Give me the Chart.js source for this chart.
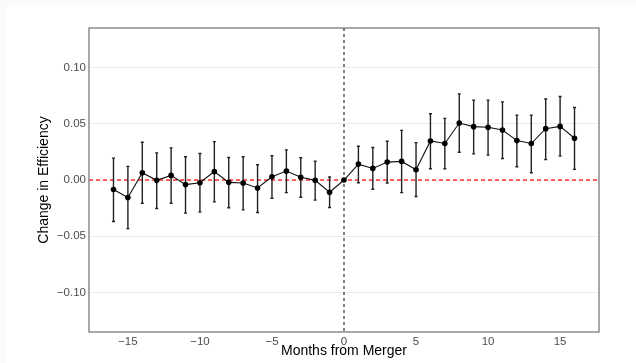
<!DOCTYPE html>
<html lang="en">
<head>
    <meta charset="UTF-8">
    <title>Change in Efficiency by Months from Merger</title>
    <script src="https://cdnjs.cloudflare.com/ajax/libs/Chart.js/4.4.1/chart.umd.min.js"></script>
    <style>
        body {
            margin: 0;
            padding: 0;
            background: #fafafa;
        }
        .panel {
            position: absolute;
            left: 6px;
            top: 5px;
            width: 630px;
            height: 358px;
            background: #ffffff;
        }
    </style>
</head>
<body>
    <div class="panel">
        <canvas id="effChart" width="630" height="358"></canvas>
    </div>

    <script>
        // months relative to the merger (0 = reference month)
        const months = [-16, -15, -14, -13, -12, -11, -10, -9, -8, -7, -6, -5, -4, -3, -2, -1, 0,
                        1, 2, 3, 4, 5, 6, 7, 8, 9, 10, 11, 12, 13, 14, 15, 16];
        const estimate = [-0.0085, -0.0156, 0.0065, -0.0003, 0.0041, -0.0041, -0.0024, 0.0076,
                          -0.0021, -0.0026, -0.0071, 0.0029, 0.0079, 0.0024, -0.0003, -0.0109, 0,
                          0.0141, 0.0103, 0.0159, 0.0165, 0.0091, 0.0347, 0.0324, 0.0506,
                          0.0474, 0.0468, 0.0444, 0.0350, 0.0324, 0.0456, 0.0476, 0.0371];
        const upper = [0.0194, 0.0121, 0.0335, 0.0241, 0.0285, 0.0206, 0.0235, 0.0341,
                       0.0200, 0.0206, 0.0135, 0.0215, 0.0268, 0.0197, 0.0168, 0.0026, null,
                       0.0300, 0.0288, 0.0344, 0.0441, 0.0332, 0.0588, 0.0547, 0.0765,
                       0.0709, 0.0709, 0.0694, 0.0576, 0.0576, 0.0720, 0.0741, 0.0644];
        const lower = [-0.0368, -0.0432, -0.0206, -0.0253, -0.0206, -0.0294, -0.0285, -0.0194,
                       -0.0247, -0.0265, -0.0288, -0.0162, -0.0112, -0.0153, -0.0179, -0.0244, null,
                       -0.0024, -0.0082, -0.0026, -0.0112, -0.0147, 0.0100, 0.0100, 0.0247,
                       0.0232, 0.0221, 0.0191, 0.0118, 0.0065, 0.0182, 0.0212, 0.0094];
        const xTicks = [-15, -10, -5, 0, 5, 10, 15];
        const yTicks = [-0.10, -0.05, 0.00, 0.05, 0.10];

        const minus = s => s.replace('-', '\u2212');

        // error bars, zero line and merger line
        const errorBars = {
            id: 'errorBars',
            beforeDatasetsDraw(chart) {
                const {ctx, chartArea, scales: {x, y}} = chart;
                ctx.save();
                // red dashed zero line
                ctx.strokeStyle = '#ff3030';
                ctx.lineWidth = 1.3;
                ctx.setLineDash([4, 3]);
                ctx.beginPath();
                ctx.moveTo(chartArea.left, y.getPixelForValue(0));
                ctx.lineTo(chartArea.right, y.getPixelForValue(0));
                ctx.stroke();
                // vertical dashed line at merger
                ctx.strokeStyle = '#000';
                ctx.lineWidth = 1;
                ctx.setLineDash([3, 3]);
                ctx.beginPath();
                ctx.moveTo(x.getPixelForValue(0), chartArea.top);
                ctx.lineTo(x.getPixelForValue(0), chartArea.bottom);
                ctx.stroke();
                // error bars
                ctx.setLineDash([]);
                ctx.strokeStyle = '#222';
                ctx.lineWidth = 1.4;
                months.forEach((m, i) => {
                    if (upper[i] === null) return;
                    const px = x.getPixelForValue(m);
                    const y1 = y.getPixelForValue(upper[i]);
                    const y2 = y.getPixelForValue(lower[i]);
                    ctx.beginPath();
                    ctx.moveTo(px, y1);
                    ctx.lineTo(px, y2);
                    ctx.moveTo(px - 1.5, y1);
                    ctx.lineTo(px + 1.5, y1);
                    ctx.moveTo(px - 1.5, y2);
                    ctx.lineTo(px + 1.5, y2);
                    ctx.stroke();
                });
                ctx.restore();
            },
            afterDraw(chart) {
                const {ctx, chartArea} = chart;
                ctx.save();
                ctx.strokeStyle = '#7a7a7a';
                ctx.lineWidth = 1.3;
                ctx.strokeRect(chartArea.left, chartArea.top, chartArea.width, chartArea.height);
                ctx.restore();
            }
        };

        const ctx = document.getElementById('effChart').getContext('2d');
        new Chart(ctx, {
            type: 'line',
            data: {
                datasets: [{
                    data: months.map((m, i) => ({x: m, y: estimate[i]})),
                    borderColor: '#111',
                    borderWidth: 1.1,
                    pointBackgroundColor: '#000',
                    pointBorderColor: '#000',
                    pointRadius: 2.8,
                    pointBorderWidth: 0,
                    tension: 0
                }]
            },
            options: {
                responsive: false,
                animation: false,
                layout: {padding: {top: 23, right: 37, left: 0, bottom: 0}},
                plugins: {
                    legend: {display: false},
                    tooltip: {enabled: false}
                },
                scales: {
                    x: {
                        type: 'linear',
                        min: -17.7,
                        max: 17.7,
                        afterFit: s => { s.height = 31; },
                        afterBuildTicks: s => { s.ticks = xTicks.map(v => ({value: v})); },
                        grid: {display: false, drawTicks: false},
                        border: {display: false},
                        ticks: {
                            padding: 3,
                            color: '#4d4d4d',
                            font: {family: 'Liberation Sans', size: 11.5},
                            callback: v => minus(String(v))
                        },
                        title: {
                            display: true,
                            text: 'Months from Merger',
                            color: '#000',
                            font: {family: 'Liberation Sans', size: 14},
                            padding: {top: 0, bottom: 3}
                        }
                    },
                    y: {
                        min: -0.135,
                        max: 0.135,
                        afterFit: s => { s.width = 83; },
                        afterBuildTicks: s => { s.ticks = yTicks.map(v => ({value: v})); },
                        grid: {color: '#ebebeb', lineWidth: 1, drawTicks: false},
                        border: {display: false},
                        ticks: {
                            padding: 3,
                            color: '#4d4d4d',
                            font: {family: 'Liberation Sans', size: 11.5},
                            callback: v => minus(v.toFixed(2))
                        },
                        title: {
                            display: true,
                            text: 'Change in Efficiency',
                            color: '#000',
                            font: {family: 'Liberation Sans', size: 14},
                            padding: {top: 30, bottom: 0}
                        }
                    }
                }
            },
            plugins: [errorBars]
        });
    </script>
</body>
</html>
